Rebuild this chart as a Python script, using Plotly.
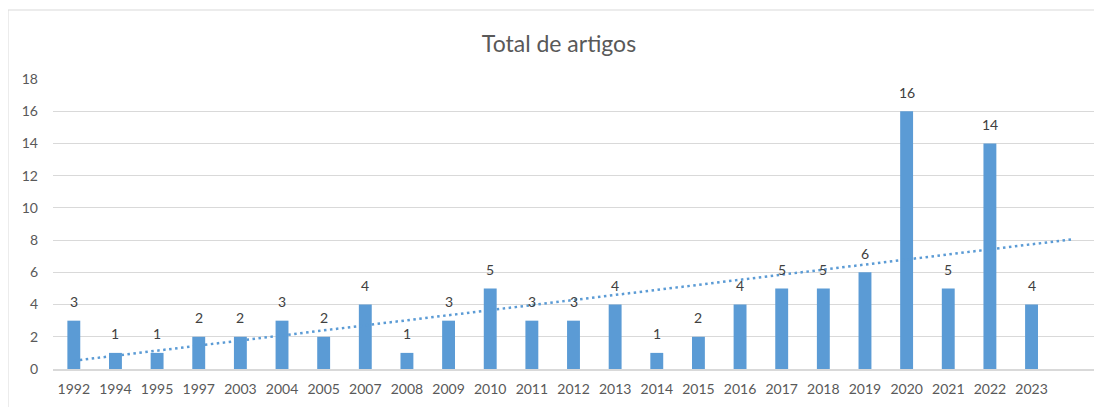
import numpy as np
import plotly.graph_objects as go

years = ["1992", "1994", "1995", "1997", "2003", "2004", "2005", "2007", "2008", "2009",
         "2010", "2011", "2012", "2013", "2014", "2015", "2016", "2017", "2018", "2019",
         "2020", "2021", "2022", "2023"]
artigos = [3, 1, 1, 2, 2, 3, 2, 4, 1, 3, 5, 3, 3, 4, 1, 2, 4, 5, 5, 6, 16, 5, 14, 4]
y_ticks = [0, 2, 4, 6, 8, 10, 12, 14, 16, 18]

bar_color = "#5B9BD5"
text_color = "#595959"
font_family = "Lato, 'Open Sans', sans-serif"

idx = np.arange(len(years))
# linear trend line (forecast forward one period)
slope, intercept = np.polyfit(idx + 1, artigos, 1)
trend_x = np.array([0, len(years)])
trend_y = slope * (trend_x + 1) + intercept

fig = go.Figure()
fig.add_trace(go.Bar(
    x=idx, y=artigos, marker_color=bar_color, marker_line_width=0,
    showlegend=False,
))
fig.add_trace(go.Scatter(
    x=trend_x, y=trend_y, mode="lines",
    line=dict(color=bar_color, width=2.5, dash="2.5px,3.5px"), showlegend=False,
))

annotations = [
    dict(x=int(i), y=v, xref="x", yref="y", text=str(v), showarrow=False,
         yanchor="middle", yshift=19,
         font=dict(size=14, color="#404040", family=font_family))
    for i, v in zip(idx, artigos)
]

# page offset of 8px (body margin) compensated in margins
fig.update_layout(
    width=1102, height=407,
    margin=dict(l=45, r=16, t=71, b=46),
    paper_bgcolor="white", plot_bgcolor="white",
    bargap=0.69,
    title=dict(text="Total de artigos", x=0.5, xanchor="center", y=1 - 36 / 407, yanchor="middle",
               font=dict(size=23, color=text_color, family=font_family)),
    xaxis=dict(range=[-0.5, len(years) + 0.5], tickmode="array", tickvals=list(idx), ticktext=years,
               showgrid=False, zeroline=False, showline=True, linecolor="#D9D9D9", linewidth=1.5,
               ticks="", tickfont=dict(size=14, color=text_color, family=font_family),
               ticklabelstandoff=6),
    yaxis=dict(range=[0, 18], tickmode="array", tickvals=y_ticks, showgrid=True,
               gridcolor="#D9D9D9", gridwidth=1, zeroline=False, showline=False, ticks="",
               tickfont=dict(size=14, color=text_color, family=font_family),
               ticklabelstandoff=14),
    annotations=annotations,
    shapes=[
        dict(type="line", xref="paper", yref="paper", x0=-45 / 1041, x1=1.2, y0=(369 - 10) / 290,
             y1=(369 - 10) / 290, line=dict(color="#D9D9D9", width=1)),
        dict(type="line", xref="paper", yref="paper", x0=-45 / 1041, x1=-45 / 1041, y0=(369 - 10) / 290,
             y1=-0.3, line=dict(color="#D9D9D9", width=1)),
    ],
)

fig.write_html("out.html")
